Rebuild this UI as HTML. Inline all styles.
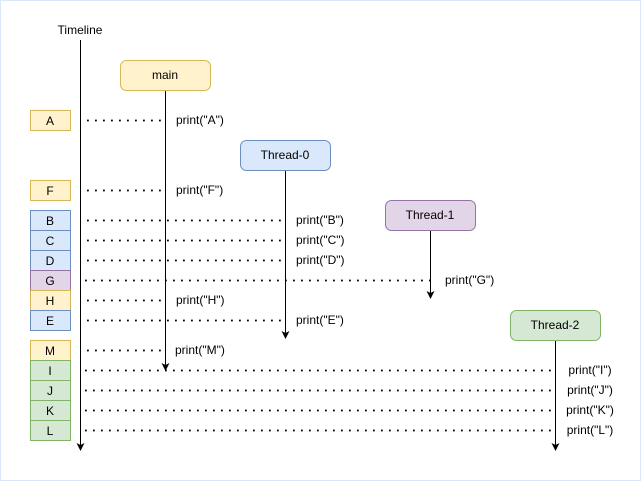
<!DOCTYPE html>
<html><head><meta charset="utf-8"><style>
html,body{margin:0;padding:0;background:#fff;}
svg{display:block;font-family:"Liberation Sans",Helvetica,Arial,sans-serif;}
</style></head><body>
<svg width="641" height="481" viewBox="0 0 641 481" xmlns="http://www.w3.org/2000/svg">
<rect x="0.5" y="0.5" width="640" height="480" fill="#fff" stroke="#dae8fc"/>
<text x="80" y="34" font-size="12" text-anchor="middle">Timeline</text>
<line x1="80.5" y1="40" x2="80.5" y2="446" stroke="#000"/>
<path d="M76.5,443 L80.5,451 L84.5,443 L80.5,445 Z" fill="#000"/>
<g stroke="#000" stroke-width="1.8" stroke-dasharray="1.8 6.2" fill="none">
<line x1="87" y1="120.5" x2="162" y2="120.5"/>
<line x1="87" y1="190.5" x2="162" y2="190.5"/>
<line x1="87" y1="220.5" x2="282" y2="220.5"/>
<line x1="87" y1="240.5" x2="282" y2="240.5"/>
<line x1="87" y1="260.5" x2="282" y2="260.5"/>
<line x1="85" y1="280.5" x2="432" y2="280.5"/>
<line x1="87" y1="300.5" x2="162" y2="300.5"/>
<line x1="87" y1="320.5" x2="282" y2="320.5"/>
<line x1="87" y1="350.5" x2="162" y2="350.5"/>
<line x1="85" y1="370.5" x2="552" y2="370.5"/>
<line x1="85" y1="390.5" x2="552" y2="390.5"/>
<line x1="85" y1="410.5" x2="552" y2="410.5"/>
<line x1="85" y1="430.5" x2="552" y2="430.5"/>
</g>
<g stroke="#000" fill="none">
<line x1="165.5" y1="90" x2="165.5" y2="366"/>
<line x1="285.5" y1="170" x2="285.5" y2="334"/>
<line x1="430.5" y1="230" x2="430.5" y2="294"/>
<line x1="555.5" y1="340" x2="555.5" y2="446"/>
</g>
<g fill="#000">
<path d="M161.5,363 L165.5,371 L169.5,363 L165.5,365 Z"/>
<path d="M281.5,331 L285.5,339 L289.5,331 L285.5,333 Z"/>
<path d="M426.5,291 L430.5,299 L434.5,291 L430.5,293 Z"/>
<path d="M551.5,443 L555.5,451 L559.5,443 L555.5,445 Z"/>
</g>
<g font-size="12" text-anchor="middle">
<rect x="120.5" y="60.5" width="90" height="30" rx="6" fill="#fff2cc" stroke="#d6b656"/><text x="165" y="79">main</text>
<rect x="240.5" y="140.5" width="90" height="30" rx="6" fill="#dae8fc" stroke="#6c8ebf"/><text x="285" y="159">Thread-0</text>
<rect x="385.5" y="200.5" width="90" height="30" rx="6" fill="#e1d5e7" stroke="#9673a6"/><text x="430" y="219">Thread-1</text>
<rect x="510.5" y="310.5" width="90" height="30" rx="6" fill="#d5e8d4" stroke="#82b366"/><text x="555" y="329">Thread-2</text>
</g>
<g font-size="12" text-anchor="middle">
<rect x="30.5" y="110.5" width="40" height="20" fill="#fff2cc" stroke="#d6b656"/><text x="50" y="125">A</text>
<rect x="30.5" y="180.5" width="40" height="20" fill="#fff2cc" stroke="#d6b656"/><text x="50" y="195">F</text>
<rect x="30.5" y="210.5" width="40" height="20" fill="#dae8fc" stroke="#6c8ebf"/><text x="50" y="225">B</text>
<rect x="30.5" y="230.5" width="40" height="20" fill="#dae8fc" stroke="#6c8ebf"/><text x="50" y="245">C</text>
<rect x="30.5" y="250.5" width="40" height="20" fill="#dae8fc" stroke="#6c8ebf"/><text x="50" y="265">D</text>
<rect x="30.5" y="270.5" width="40" height="20" fill="#e1d5e7" stroke="#9673a6"/><text x="50" y="285">G</text>
<rect x="30.5" y="290.5" width="40" height="20" fill="#fff2cc" stroke="#d6b656"/><text x="50" y="305">H</text>
<rect x="30.5" y="310.5" width="40" height="20" fill="#dae8fc" stroke="#6c8ebf"/><text x="50" y="325">E</text>
<rect x="30.5" y="340.5" width="40" height="20" fill="#fff2cc" stroke="#d6b656"/><text x="50" y="355">M</text>
<rect x="30.5" y="360.5" width="40" height="20" fill="#d5e8d4" stroke="#82b366"/><text x="50" y="375">I</text>
<rect x="30.5" y="380.5" width="40" height="20" fill="#d5e8d4" stroke="#82b366"/><text x="50" y="395">J</text>
<rect x="30.5" y="400.5" width="40" height="20" fill="#d5e8d4" stroke="#82b366"/><text x="50" y="415">K</text>
<rect x="30.5" y="420.5" width="40" height="20" fill="#d5e8d4" stroke="#82b366"/><text x="50" y="435">L</text>
</g>
<g font-size="12">
<text x="176" y="124">print("A")</text>
<text x="176" y="194">print("F")</text>
<text x="296" y="224">print("B")</text>
<text x="296" y="244">print("C")</text>
<text x="296" y="264">print("D")</text>
<text x="445" y="284">print("G")</text>
<text x="176" y="304">print("H")</text>
<text x="296" y="324">print("E")</text>
<text x="175" y="354">print("M")</text>
</g>
<g font-size="12" text-anchor="middle">
<text x="590" y="374">print("I")</text>
<text x="590" y="394">print("J")</text>
<text x="590" y="414">print("K")</text>
<text x="590" y="434">print("L")</text>
</g>
</svg>
</body></html>
